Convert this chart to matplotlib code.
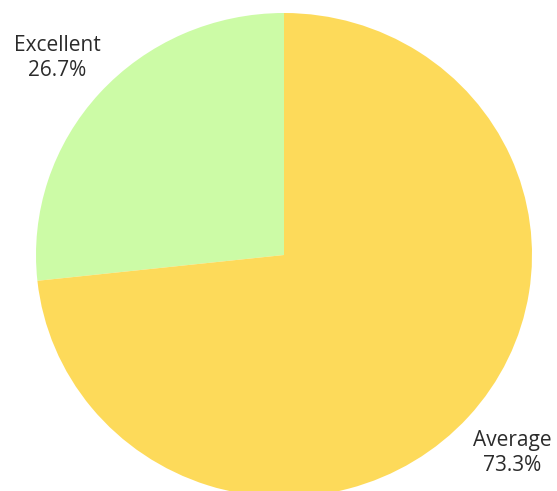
import matplotlib
matplotlib.use("Agg")
import matplotlib.pyplot as plt

categories = ["Excellent", "Average"]
shares = [26.7, 73.3]
colors = ["#CCFBA6", "#FDDA5A"]

W, H = 557, 491
# the pie is slightly squashed vertically
sy = 248 / 242

fig = plt.figure(figsize=(W / 100, H / 100), dpi=100)
ax = fig.add_axes([0, 0, 1, 1])

cx, cy, r = 284, (H - 255) * sy, 248
ax.pie(shares, colors=colors, startangle=90, counterclock=True,
       center=(cx, cy), radius=r, frame=True,
       wedgeprops=dict(linewidth=0))
ax.set_aspect("auto")
ax.set_xlim(0, W)
ax.set_ylim(0, H * sy)
ax.axis("off")

label_pos = [(57, H - 58), (512, H - 453)]
for name, val, (x, y) in zip(categories, shares, label_pos):
    ax.text(x, y * sy, f"{name}\n{val:.1f}%", ha="center", va="center",
            fontsize=15, family="Open Sans", color="#2b2b2b",
            linespacing=1.2)

fig.savefig("out.png", dpi=100)
